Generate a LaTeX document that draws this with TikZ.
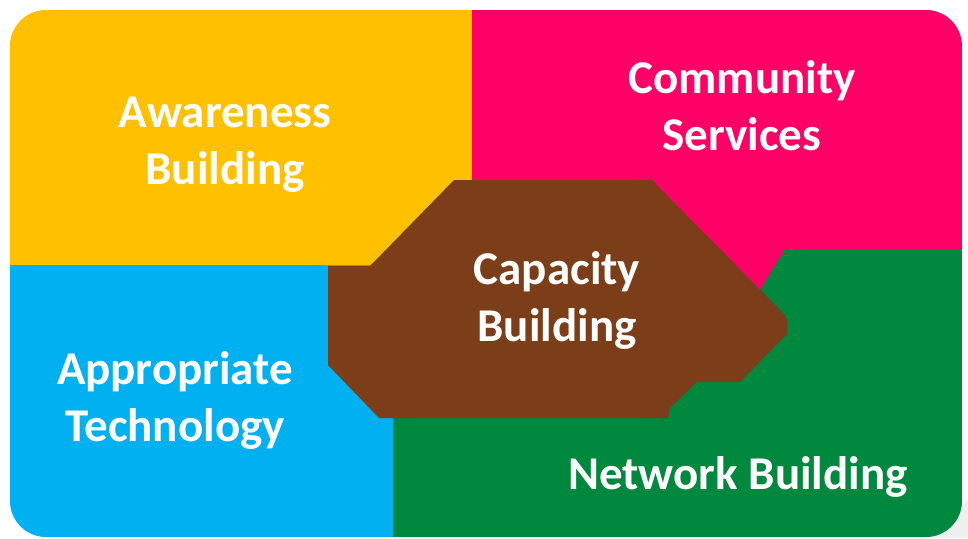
\documentclass[tikz,border=0pt]{standalone}
\usepackage{fontspec}
\setmainfont{Carlito}
\definecolor{cyellow}{HTML}{FFC000}
\definecolor{cpink}{HTML}{FF0066}
\definecolor{cblue}{HTML}{00B0F0}
\definecolor{cgreen}{HTML}{00883E}
\definecolor{cbrown}{HTML}{7B3E19}
\begin{document}
\begin{tikzpicture}[x=1pt,y=-1pt,
  lbl/.style={text=white,font=\fontsize{47}{57}\selectfont\bfseries,align=center,inner sep=0pt}]
\useasboundingbox (0,0) rectangle (968,538);
\fill[gray!12] (930,538) .. controls (950,520) and (960,505) .. (968,500) -- (968,538) -- cycle;
\begin{scope}
\clip[rounded corners=36pt] (10,10) rectangle (962,537);
\fill[cyellow] (10,10) rectangle (472,265);
\fill[cpink] (472,10) rectangle (962,305);
\fill[cblue] (10,265) rectangle (393,537);
\fill[cgreen] (393,537) -- (393,300) -- (754,300) -- (785,249) -- (962,249) -- (962,537) -- cycle;
\end{scope}
\fill[cbrown] (454,180) -- (652,180) -- (784,314) -- (787,320) -- (787,334) -- (740,382)
  -- (697,382) -- (670,408) -- (668,418) -- (379,418) -- (328,365) -- (328,266)
  -- (370,266) -- cycle;
\node[lbl] (aw) at (225,145) {Awareness\\Building};
\node[lbl] (cs) at (742,106) {Community\\Services};
\node[lbl] (cb) at (557,300) {Capacity\\Building};
\node[lbl] (at) at (175,400) {Appropriate\\Technology};
\node[lbl] (nb) at (738,477) {Network Building};
\end{tikzpicture}
\end{document}
